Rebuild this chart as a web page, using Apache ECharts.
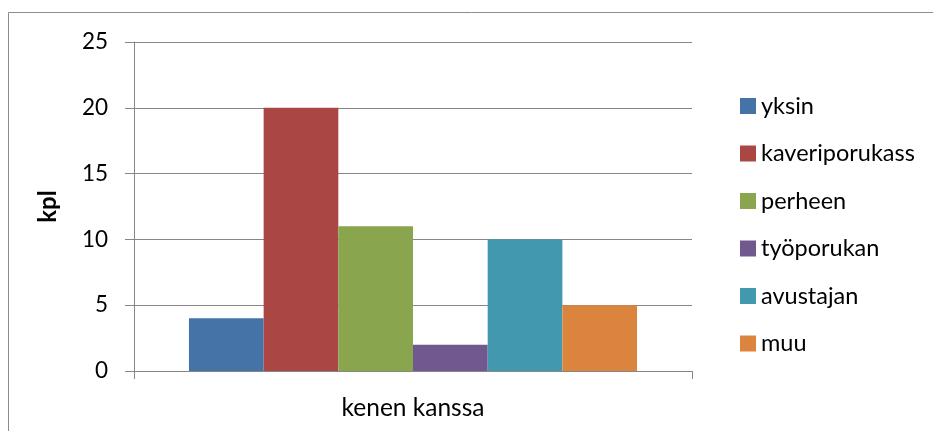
<!DOCTYPE html>
<html>
<head>
<meta charset="utf-8">
<script src="https://cdn.jsdelivr.net/npm/echarts@6/dist/echarts.min.js"></script>
<style>
  html, body { margin: 0; padding: 0; background: #fff; }
  #chart { width: 933px; height: 431px; }
</style>
</head>
<body>
<div id="chart"></div>
<script>
// Category and series data
const categories = ['kenen kanssa'];
const seriesNames = ['yksin', 'kaveriporukass', 'perheen', 'työporukan', 'avustajan', 'muu'];
const seriesValues = [[4], [20], [11], [2], [10], [5]];
const seriesColors = ['#4572A7', '#AA4643', '#89A54E', '#71588F', '#4198AF', '#DB843D'];
const yTicks = [0, 5, 10, 15, 20, 25];

const FONT = 'Lato';
const AXIS_GREY = '#868686';

const chart = echarts.init(document.getElementById('chart'), null, { renderer: 'canvas' });

chart.setOption({
  animation: false,
  textStyle: { fontFamily: FONT, color: '#000' },
  graphic: [{
    type: 'rect',
    shape: { x: 8.5, y: 12.5, width: 1000, height: 1000 },
    style: { fill: 'none', stroke: '#8c8c8c', lineWidth: 1 },
    silent: true,
    z: -1
  }],
  grid: { left: 134, right: 241, top: 42, bottom: 60, containLabel: false },
  legend: {
    orient: 'vertical',
    left: 735,
    top: 89,
    icon: 'rect',
    itemWidth: 16,
    itemHeight: 16,
    itemGap: 23.5,
    data: seriesNames,
    textStyle: { fontFamily: FONT, fontSize: 23.5, lineHeight: 23.5, color: '#000' }
  },
  xAxis: {
    type: 'category',
    data: categories,
    axisLine: { lineStyle: { color: AXIS_GREY, width: 1 } },
    axisTick: { show: true, length: 8, lineStyle: { color: AXIS_GREY } },
    axisLabel: { margin: 25, fontFamily: FONT, fontSize: 24.5, color: '#000' }
  },
  yAxis: {
    type: 'value',
    min: yTicks[0],
    max: yTicks[yTicks.length - 1],
    interval: 5,
    name: 'kpl',
    nameLocation: 'middle',
    nameRotate: 90,
    nameGap: 74,
    nameTextStyle: { fontFamily: FONT, fontSize: 24, fontWeight: 'bold', color: '#000' },
    axisLine: { show: true, lineStyle: { color: AXIS_GREY, width: 1 } },
    axisTick: { show: true, length: 9, lineStyle: { color: AXIS_GREY } },
    axisLabel: { margin: 26, fontFamily: FONT, fontSize: 22.5, color: '#000' },
    splitLine: { show: true, lineStyle: { color: AXIS_GREY, width: 1 } }
  },
  series: seriesNames.map((name, i) => ({
    name: name,
    type: 'bar',
    data: seriesValues[i],
    itemStyle: { color: seriesColors[i] },
    barGap: '0%',
    barCategoryGap: '19.7%'
  }))
});
</script>
</body>
</html>
